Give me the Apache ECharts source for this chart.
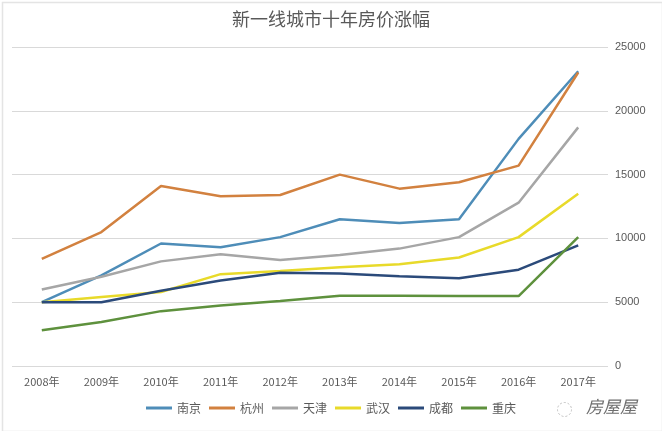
<!DOCTYPE html>
<html>
<head>
<meta charset="utf-8">
<script src="https://cdn.jsdelivr.net/npm/echarts@6/dist/echarts.min.js"></script>
<style>
html,body{margin:0;padding:0;background:#fff;}
#c{width:662px;height:431px;}
</style>
</head>
<body>
<div id="c"></div>
<script>
const categories = ['2008年','2009年','2010年','2011年','2012年','2013年','2014年','2015年','2016年','2017年'];
const nanjing   = [5000, 7100, 9600, 9300, 10100, 11500, 11200, 11500, 17800, 23100];
const hangzhou  = [8400, 10500, 14100, 13300, 13400, 15000, 13900, 14400, 15700, 23000];
const tianjin   = [6000, 7000, 8200, 8750, 8300, 8700, 9200, 10100, 12800, 18700];
const wuhan     = [5000, 5400, 5800, 7200, 7450, 7730, 7970, 8500, 10100, 13500];
const chengdu   = [5000, 5000, 5900, 6700, 7300, 7250, 7030, 6870, 7550, 9450];
const chongqing = [2800, 3450, 4300, 4750, 5100, 5500, 5500, 5480, 5480, 10100];
const seriesNames = ['南京','杭州','天津','武汉','成都','重庆'];
const seriesData = [nanjing, hangzhou, tianjin, wuhan, chengdu, chongqing];
const colors = ['#4E8DB8','#D2813F','#A6A6A6','#E8DA2A','#2B4A7A','#5E913D'];

const chart = echarts.init(document.getElementById('c'));
chart.setOption({
  animation: false,
  color: colors,
  title: {
    text: '新一线城市十年房价涨幅',
    left: 'center',
    top: 5,
    textStyle: {fontSize: 18, fontWeight: 'normal', color: '#595959', fontFamily: 'Noto Sans CJK SC'}
  },
  legend: {
    data: seriesNames,
    bottom: 12,
    left: 'center',
    itemWidth: 26,
    itemHeight: 3,
    itemGap: 8,
    icon: 'rect',
    textStyle: {fontSize: 12, color: '#595959', fontFamily: 'Noto Sans CJK SC'}
  },
  grid: {left: 12, right: 54, top: 47, bottom: 65, containLabel: false},
  xAxis: {
    type: 'category',
    data: categories,
    boundaryGap: true,
    axisLine: {show: false},
    axisTick: {show: false},
    axisLabel: {fontSize: 11, color: '#595959', margin: 10, fontFamily: 'Noto Sans CJK SC'}
  },
  yAxis: {
    type: 'value',
    position: 'right',
    min: 0, max: 25000, interval: 5000,
    axisLine: {show: false},
    axisTick: {show: false},
    axisLabel: {fontSize: 11, color: '#595959', margin: 7, formatter: v => String(v)},
    splitLine: {lineStyle: {color: '#D9D9D9', width: 1}}
  },
  series: seriesNames.map((n, i) => ({
    name: n,
    type: 'line',
    data: seriesData[i],
    showSymbol: false,
    symbol: 'none',
    lineStyle: {width: 2.5}
  })),
  graphic: [
    {type: 'rect', left: 0, top: 0, shape: {width: 660, height: 429}, style: {fill: 'none', stroke: '#E4E4E4', lineWidth: 1.5}, silent: true},
    {type: 'circle', left: 555, top: 400, shape: {r: 7}, style: {fill: 'none', stroke: '#BDBDBD', lineWidth: 1, lineDash: [2, 2]}},
    {type: 'text', left: 586, top: 398, style: {text: '房屋屋', fontSize: 17, fontStyle: 'italic', fill: '#6E6E6E', fontFamily: 'Noto Sans CJK SC'}}
  ]
});
</script>
</body>
</html>
